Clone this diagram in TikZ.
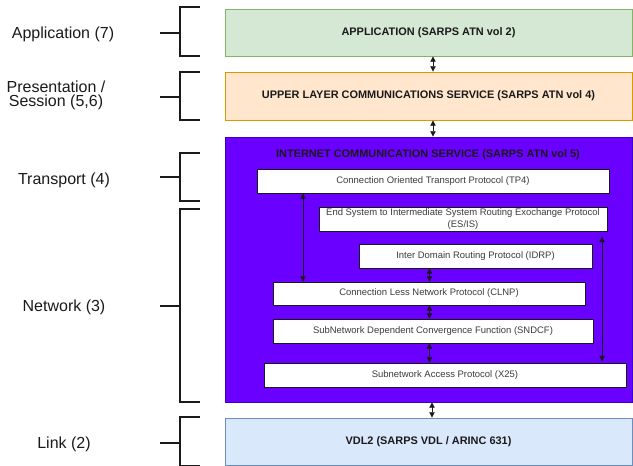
\documentclass[tikz,border=0pt]{standalone}
\usepackage{fontspec}
\setmainfont{Liberation Sans}
\usetikzlibrary{arrows.meta,calc}

\definecolor{appfill}{HTML}{D5E8D4}
\definecolor{appline}{HTML}{82B366}
\definecolor{ulfill}{HTML}{FFE6CC}
\definecolor{ulline}{HTML}{D79B00}
\definecolor{icsfill}{HTML}{6A00FF}
\definecolor{icsline}{HTML}{3700CC}
\definecolor{linkfill}{HTML}{DAE8FC}
\definecolor{linkline}{HTML}{6C8EBF}
\definecolor{ink}{HTML}{1A1A1A}

\tikzset{
  layerbox/.style={draw, line width=0.6pt, inner sep=0pt, align=center,
    font=\fontsize{8.2}{9.8}\selectfont\bfseries, text=ink},
  protobox/.style={draw=ink, fill=white, line width=0.6pt, inner sep=0pt,
    align=center, font=\fontsize{7.1}{8.4}\selectfont, text=ink!85},
  osilabel/.style={align=center, inner sep=0pt,
    font=\fontsize{12}{10.5}\selectfont, text=ink},
  bracket/.style={draw=ink, line width=0.9pt},
  link/.style={ink, line width=0.7pt,
    {Triangle[width=4pt,length=4pt]}-{Triangle[width=4pt,length=4pt]}}
}

\begin{document}
\begin{tikzpicture}[x=0.75pt, y=-0.75pt]
\useasboundingbox (0,0) rectangle (633,466);

% ---------- protocol layers ----------
\node[layerbox, fill=appfill, draw=appline, minimum width=305.25pt, minimum height=35.25pt]
  (app) at (428.5,32.5) {APPLICATION (SARPS ATN vol 2)};
\node[layerbox, fill=ulfill, draw=ulline, minimum width=305.25pt, minimum height=36pt]
  (ulcs) at (428.5,96) {UPPER LAYER COMMUNICATIONS SERVICE (SARPS ATN vol 4)};
\node[layerbox, fill=icsfill, draw=icsline, minimum width=305.25pt, minimum height=198.75pt]
  (ics) at (428.5,269.5) {};
\node[layerbox, fill=linkfill, draw=linkline, minimum width=305.25pt, minimum height=35.25pt]
  (vdl) at (428.5,441.5) {VDL2 (SARPS VDL / ARINC 631)};
\node[font=\fontsize{8.2}{9.8}\selectfont\bfseries, text=ink, inner sep=0pt]
  (icstitle) at (428,155) {INTERNET COMMUNICATION SERVICE (SARPS ATN vol 5)};

% ---------- protocols inside the internet service ----------
\node[protobox, minimum width=264pt, minimum height=18pt] (tp4) at (433,181)
  {Connection Oriented Transport Protocol (TP4)};
\node[protobox, minimum width=216pt, minimum height=18pt] (esis) at (463,219)
  {End System to Intermediate System Routing Exochange Protocol\\(ES/IS)};
\node[protobox, minimum width=174.75pt, minimum height=18pt] (idrp) at (475.5,256)
  {Inter Domain Routing Protocol (IDRP)};
\node[protobox, minimum width=234pt, minimum height=17.25pt] (clnp) at (429,293.5)
  {Connection Less Network Protocol (CLNP)};
\node[protobox, minimum width=240pt, minimum height=18pt] (sndcf) at (433,331)
  {SubNetwork Dependent Convergence Function (SNDCF)};
\node[protobox, minimum width=271.5pt, minimum height=18pt] (x25) at (445,375)
  {Subnetwork Access Protocol (X25)};

% ---------- connectors ----------
\coordinate (xa) at (433,0);
\coordinate (xb) at (303,0);
\coordinate (xc) at (429.5,0);
\coordinate (xd) at (602,0);
\coordinate (xe) at (432,0);

\draw[link] (app.south -| xa) -- (ulcs.north -| xa);
\draw[link] (ulcs.south -| xa) -- (ics.north -| xa);
\draw[link] (tp4.south -| xb) -- (clnp.north -| xb);
\draw[link] (idrp.south -| xc) -- (clnp.north -| xc);
\draw[link, shorten <=4pt, shorten >=1pt] (esis.south -| xd) -- (x25.north -| xd);
\draw[link] (clnp.south -| xc) -- (sndcf.north -| xc);
\draw[link] (sndcf.south -| xc) -- (x25.north -| xc);
\draw[link] (ics.south -| xe) -- (vdl.north -| xe);

% ---------- OSI layer brackets ----------
\draw[bracket] (200,7) -- (180,7) -- (180,56) -- (200,56) (180,33) -- (160,33);
\draw[bracket] (200,72) -- (180,72) -- (180,120) -- (200,120) (180,97) -- (160,97);
\draw[bracket] (200,153) -- (180,153) -- (180,201) -- (200,201) (180,177) -- (160,177);
\draw[bracket] (200,209) -- (180,209) -- (180,402) -- (200,402) (180,306) -- (160,306);
\draw[bracket] (200,417) -- (180,417) -- (180,466) -- (200,466) (180,443) -- (160,443);

% ---------- OSI layer names ----------
\node[osilabel] (l7) at (63,34) {Application (7)};
\node[osilabel] (l56) at (56,95) {Presentation /\\Session (5,6)};
\node[osilabel] (l4) at (64,180) {Transport (4)};
\node[osilabel] (l3) at (64,307) {Network (3)};
\node[osilabel] (l2) at (64,444) {Link (2)};
\end{tikzpicture}
\end{document}
